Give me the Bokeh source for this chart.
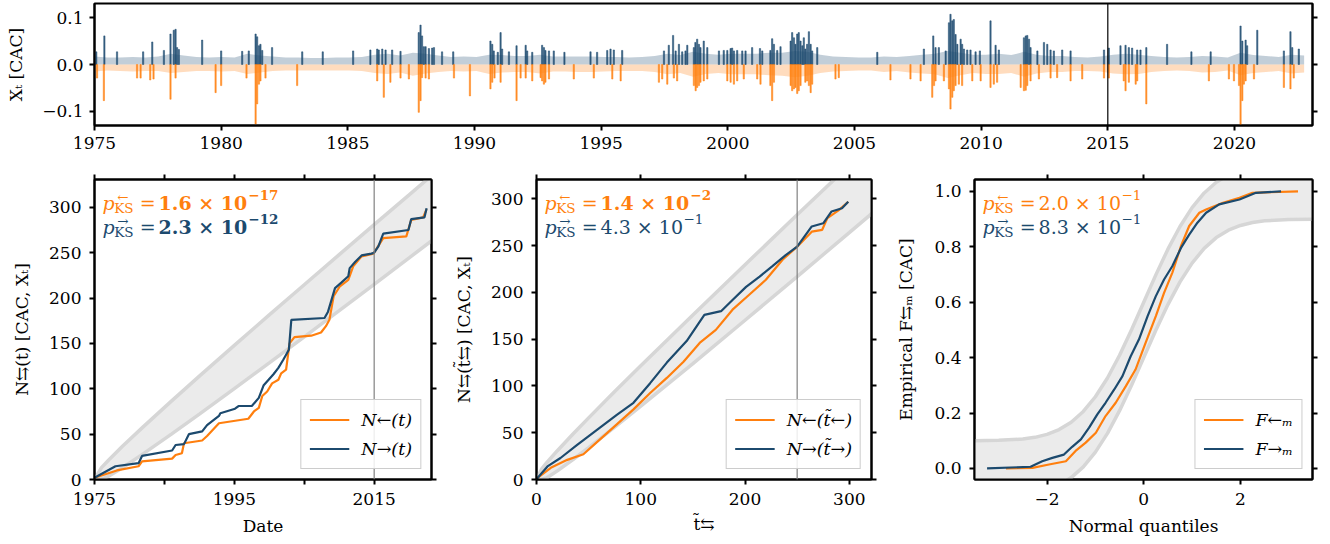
import numpy as np
from bokeh.plotting import figure
from bokeh.models import (Range1d, FixedTicker, LinearAxis, Span, Label, Legend,
                          LegendItem, CustomJSTickFormatter)
from bokeh.layouts import column, row
from bokeh.embed import file_html
from bokeh.resources import INLINE

ORANGE = "#ff7f0e"
BLUE = "#1c4a6e"
BAND_FILL = "#ebebeb"
BAND_EDGE = "#d6d6d6"
FONT = "DejaVu Serif"
FS = "17px"

# ---------------- top panel data ----------------
# envelope of the "ordinary" daily returns, per half-year, 1975 .. 2022
light_pos = [
    0.017, 0.015, 0.015, 0.016, 0.015, 0.017, 0.023, 0.019, 0.016, 0.015,
    0.016, 0.015, 0.023, 0.019, 0.017, 0.015, 0.015, 0.014, 0.014, 0.015,
    0.015, 0.016, 0.021, 0.023, 0.019, 0.025, 0.023, 0.019, 0.016, 0.017,
    0.016, 0.021, 0.020, 0.018, 0.018, 0.021, 0.017, 0.017, 0.017, 0.017,
    0.016, 0.016, 0.015, 0.016, 0.018, 0.023, 0.020, 0.027, 0.023, 0.021,
    0.023, 0.023, 0.023, 0.025, 0.025, 0.029, 0.027, 0.021, 0.017, 0.016,
    0.015, 0.015, 0.017, 0.016, 0.018, 0.021, 0.023, 0.029, 0.025, 0.021,
    0.021, 0.023, 0.020, 0.027, 0.021, 0.018, 0.018, 0.016, 0.015, 0.017,
    0.021, 0.023, 0.021, 0.018, 0.016, 0.015, 0.016, 0.018, 0.017, 0.015,
    0.025, 0.020, 0.018, 0.016, 0.021, 0.019]
light_neg = [
    -0.015, -0.013, -0.014, -0.015, -0.014, -0.014, -0.018, -0.016, -0.014, -0.014,
    -0.015, -0.014, -0.020, -0.017, -0.014, -0.013, -0.013, -0.013, -0.013, -0.013,
    -0.013, -0.014, -0.018, -0.020, -0.017, -0.024, -0.019, -0.016, -0.014, -0.015,
    -0.014, -0.020, -0.017, -0.016, -0.016, -0.019, -0.015, -0.015, -0.016, -0.016,
    -0.015, -0.014, -0.014, -0.014, -0.016, -0.021, -0.018, -0.026, -0.020, -0.018,
    -0.021, -0.021, -0.021, -0.023, -0.024, -0.027, -0.024, -0.018, -0.015, -0.014,
    -0.013, -0.013, -0.016, -0.014, -0.017, -0.019, -0.021, -0.029, -0.023, -0.018,
    -0.020, -0.020, -0.018, -0.026, -0.019, -0.016, -0.016, -0.014, -0.014, -0.015,
    -0.019, -0.021, -0.020, -0.016, -0.014, -0.013, -0.014, -0.017, -0.016, -0.013,
    -0.023, -0.018, -0.016, -0.014, -0.019, -0.017]

# exceedances above the threshold (positive) -- date, return
up_years = [
    1975.07, 1975.39, 1975.89, 1976.92, 1977.28, 1977.74, 1978.00, 1978.13, 1978.20, 1978.26,
    1978.33, 1979.25, 1980.00, 1980.83, 1981.09, 1981.36, 1981.42, 1981.49, 1981.55, 1981.62,
    1982.01, 1983.20, 1984.01, 1985.21, 1985.89, 1986.16, 1986.22, 1986.36, 1986.49, 1986.75,
    1987.08, 1987.80, 1987.87, 1987.93, 1988.00, 1988.07, 1988.20, 1988.33, 1988.40, 1988.72,
    1989.16, 1990.63, 1990.70, 1990.76, 1990.92, 1991.03, 1991.09, 1991.36, 1991.66, 1992.02,
    1992.08, 1992.28, 1992.67, 1992.74, 1992.80, 1992.94, 1993.13, 1993.55, 1994.58, 1994.84,
    1995.24, 1995.37, 1995.50, 1995.83, 1997.48, 1997.67, 1997.84, 1997.94, 1998.07, 1998.20,
    1998.33, 1998.40, 1998.66, 1998.72, 1998.79, 1998.86, 1998.92, 1999.05, 1999.19, 1999.65,
    1999.84, 1999.98, 2000.11, 2000.17, 2000.24, 2000.37, 2000.57, 2000.70, 2000.96, 2001.27,
    2001.36, 2001.68, 2001.75, 2001.82, 2001.95, 2002.08, 2002.48, 2002.54, 2002.61, 2002.67,
    2002.74, 2002.80, 2002.87, 2002.94, 2003.00, 2003.06, 2003.13, 2003.20, 2003.27, 2003.33,
    2003.53, 2005.90, 2007.74, 2008.11, 2008.20, 2008.33, 2008.60, 2008.73, 2008.79, 2008.86,
    2008.92, 2008.99, 2009.06, 2009.19, 2009.25, 2009.32, 2009.45, 2009.58, 2009.78, 2009.95,
    2010.37, 2010.57, 2010.70, 2011.69, 2011.76, 2011.82, 2011.89, 2011.95, 2012.22, 2012.48,
    2012.61, 2012.74, 2012.87, 2013.20, 2013.53, 2014.85, 2015.04, 2015.50, 2015.70, 2015.83,
    2015.96, 2016.16, 2016.29, 2016.52, 2017.34, 2018.30, 2019.06, 2020.24, 2020.31, 2020.44,
    2020.50, 2020.90, 2021.95, 2022.21, 2022.28, 2022.54]
up_vals = [
    0.027, 0.061, 0.027, 0.027, 0.048, 0.030, 0.065, 0.073, 0.075, 0.036,
    0.032, 0.052, 0.029, 0.028, 0.029, 0.065, 0.059, 0.040, 0.043, 0.030,
    0.036, 0.027, 0.027, 0.029, 0.031, 0.033, 0.031, 0.033, 0.031, 0.031,
    0.028, 0.068, 0.084, 0.061, 0.038, 0.038, 0.034, 0.035, 0.036, 0.027,
    0.027, 0.050, 0.043, 0.029, 0.026, 0.068, 0.033, 0.027, 0.040, 0.041,
    0.029, 0.026, 0.041, 0.036, 0.030, 0.029, 0.029, 0.026, 0.027, 0.026,
    0.030, 0.033, 0.031, 0.030, 0.029, 0.041, 0.062, 0.029, 0.043, 0.027,
    0.029, 0.041, 0.036, 0.047, 0.054, 0.043, 0.036, 0.050, 0.036, 0.029,
    0.030, 0.030, 0.034, 0.035, 0.029, 0.030, 0.029, 0.029, 0.036, 0.034,
    0.029, 0.030, 0.055, 0.043, 0.030, 0.038, 0.050, 0.068, 0.057, 0.043,
    0.065, 0.068, 0.050, 0.040, 0.057, 0.033, 0.043, 0.070, 0.043, 0.029,
    0.036, 0.026, 0.033, 0.061, 0.036, 0.036, 0.029, 0.089, 0.107, 0.093,
    0.096, 0.064, 0.043, 0.054, 0.043, 0.033, 0.031, 0.031, 0.027, 0.029,
    0.093, 0.041, 0.031, 0.057, 0.061, 0.062, 0.054, 0.036, 0.029, 0.047,
    0.043, 0.031, 0.029, 0.031, 0.029, 0.031, 0.035, 0.040, 0.041, 0.036,
    0.035, 0.031, 0.031, 0.036, 0.043, 0.027, 0.027, 0.082, 0.050, 0.052,
    0.040, 0.073, 0.029, 0.070, 0.036, 0.033]

# exceedances below the threshold (negative)
down_years = [
    1975.10, 1975.37, 1976.68, 1976.82, 1977.20, 1977.33, 1978.00, 1978.20, 1979.78, 1980.00,
    1981.00, 1981.36, 1981.42, 1981.49, 1981.55, 1981.75, 1983.00, 1986.16, 1986.42, 1986.68,
    1987.08, 1987.41, 1987.80, 1987.87, 1987.93, 1988.07, 1988.20, 1989.19, 1989.82, 1990.63,
    1990.70, 1990.79, 1991.03, 1991.66, 1991.82, 1992.02, 1992.28, 1992.61, 1992.67, 1992.74,
    1992.80, 1992.94, 1993.92, 1994.71, 1995.44, 1995.77, 1997.28, 1997.41, 1997.61, 1997.87,
    1998.00, 1998.66, 1998.73, 1998.79, 1998.86, 1998.92, 1999.05, 1999.19, 1999.98, 2000.11,
    2000.24, 2000.37, 2000.63, 2001.16, 2001.29, 2001.68, 2001.75, 2001.82, 2002.48, 2002.54,
    2002.61, 2002.67, 2002.74, 2002.80, 2002.87, 2003.06, 2003.13, 2003.20, 2003.27, 2003.33,
    2004.25, 2004.38, 2006.42, 2007.21, 2007.61, 2008.07, 2008.14, 2008.20, 2008.53, 2008.73,
    2008.79, 2008.86, 2008.92, 2008.99, 2009.12, 2009.25, 2009.65, 2009.98, 2010.37, 2010.50,
    2010.63, 2011.56, 2011.69, 2011.76, 2011.82, 2011.95, 2012.28, 2012.74, 2013.00, 2013.53,
    2013.99, 2014.85, 2015.04, 2015.63, 2015.70, 2015.83, 2016.10, 2016.16, 2016.52, 2018.99,
    2019.78, 2019.98, 2020.18, 2020.24, 2020.31, 2020.37, 2020.44, 2020.77, 2021.95, 2022.21,
    2022.34]
down_vals = [
    -0.029, -0.077, -0.029, -0.029, -0.033, -0.031, -0.074, -0.029, -0.060, -0.045,
    -0.029, -0.127, -0.084, -0.042, -0.035, -0.029, -0.045, -0.035, -0.070, -0.038,
    -0.029, -0.031, -0.102, -0.077, -0.028, -0.029, -0.031, -0.029, -0.067, -0.052,
    -0.038, -0.029, -0.038, -0.077, -0.029, -0.029, -0.035, -0.028, -0.035, -0.042,
    -0.038, -0.031, -0.031, -0.029, -0.031, -0.035, -0.038, -0.031, -0.042, -0.029,
    -0.035, -0.045, -0.056, -0.049, -0.045, -0.038, -0.035, -0.031, -0.035, -0.038,
    -0.042, -0.035, -0.031, -0.031, -0.042, -0.045, -0.077, -0.038, -0.045, -0.056,
    -0.052, -0.049, -0.062, -0.056, -0.045, -0.038, -0.035, -0.045, -0.060, -0.042,
    -0.031, -0.028, -0.033, -0.031, -0.035, -0.070, -0.045, -0.035, -0.035, -0.052,
    -0.095, -0.070, -0.056, -0.045, -0.042, -0.045, -0.035, -0.035, -0.049, -0.042,
    -0.038, -0.049, -0.056, -0.055, -0.045, -0.035, -0.031, -0.029, -0.028, -0.035,
    -0.031, -0.029, -0.029, -0.035, -0.056, -0.038, -0.042, -0.035, -0.084, -0.035,
    -0.031, -0.035, -0.045, -0.130, -0.077, -0.042, -0.035, -0.031, -0.049, -0.052,
    -0.029]

# ---------------- panel 1: counting processes vs date ----------------
n1_up_years = [1975.0, 1978.0, 1981.3, 1981.8, 1986.1, 1986.6, 1987.8, 1988.5, 1990.4, 1991.1,
               1992.8, 1993.0, 1995.1, 1995.6, 1997.5, 1998.5, 1999.2, 1999.9, 2000.6, 2001.3,
               2002.0, 2002.8, 2003.15, 2007.9, 2008.4, 2008.9, 2009.4, 2010.3, 2011.3, 2011.5,
               2012.3, 2013.2, 2014.6, 2015.0, 2015.6, 2016.3, 2019.9, 2020.3, 2022.2, 2022.5]
n1_up = [2, 14.6, 18, 26, 32, 38, 39, 50, 53, 60,
         70, 73, 78, 81, 81, 90, 104, 110, 116, 123,
         132, 143, 176, 178, 185, 198, 211, 217, 224, 233,
         240, 247, 249, 250, 257, 271, 275, 287, 289, 299]
n1_down_years = [1975.0, 1978.2, 1981.3, 1981.8, 1986.1, 1986.6, 1987.5, 1987.8, 1990.4, 1991.1,
                 1992.8, 1997.0, 1997.8, 1998.5, 1999.0, 1999.7, 2000.4, 2001.3, 2001.7, 2002.4,
                 2002.9, 2003.6, 2006.0, 2007.4, 2008.1, 2008.6, 2009.2, 2010.1, 2011.3, 2012.0,
                 2013.2, 2014.9, 2016.3, 2019.6, 2020.3, 2022.0, 2022.5]
n1_down = [2, 10, 14.6, 20, 23, 27, 29, 40, 43, 48,
           62, 67, 75, 79, 92, 97, 106, 110, 117, 121,
           150, 157, 158.5, 162, 169, 176, 202, 213, 220, 235,
           246, 249, 266, 268, 286, 289, 298]
band1_years = [1975, 1976, 1977, 1979, 1982, 1986, 1990, 1995, 2000, 2005, 2010, 2015, 2020, 2024]
band1_hi = [0, 13.1, 21.3, 36.6, 58.3, 86.4, 113.9, 147.8, 181.4, 214.7, 247.9, 280.9, 313.7, 340.2]
band1_lo = [0, 0.5, 3.5, 13.0, 28.5, 50.0, 72.1, 100.2, 128.6, 157.3, 186.1, 215.1, 244.3, 267.8]

# ---------------- panel 2: counting processes vs transformed time ----------------
t2_up = [0, 1, 10.5, 23, 39, 58, 77, 93, 109, 125, 144, 161, 177, 188, 201, 214, 226, 239,
         250, 264, 275, 283, 293, 299]
n2_up = [0, 1.7, 14, 23, 37, 53, 69, 82, 103, 125, 148, 176, 180, 192, 206, 217, 228, 240,
         249, 270.6, 274, 286.6, 290, 297]
t2_down = [0, 1, 13.7, 29.5, 45, 55, 77, 93, 109, 125, 141, 156.5, 172, 188, 204, 220, 236,
           250, 264, 274, 279, 290, 299]
n2_down = [0, 1.7, 12.5, 21, 27, 37, 59, 75, 92.5, 108.6, 126, 146, 160, 181.6, 197.6, 213.6,
           235, 249, 265, 267, 279.5, 288, 297]
band2_t = [0, 5, 10, 20, 35, 50, 75, 100, 150, 200, 250, 300, 330]
band2_hi = [0, 11.4, 18.2, 30.8, 48.6, 65.9, 94.0, 121.6, 176.0, 229.7, 283.0, 336.0, 367.6]
band2_lo = [0, 0.3, 1.8, 9.2, 21.4, 34.1, 56.0, 78.4, 124.0, 170.3, 217.0, 264.0, 292.4]

# ---------------- panel 3: empirical distribution of marks ----------------
q_up = [-3.24, -2.34, -2.1, -1.89, -1.65, -1.48, -1.3, -1.13, -0.96, -0.79, -0.61, -0.44,
        -0.27, -0.1, 0.08, 0.25, 0.42, 0.59, 0.77, 0.94, 1.11, 1.29, 1.56, 1.98, 2.32, 2.84]
f_up = [0, 0.006, 0.026, 0.038, 0.05, 0.078, 0.105, 0.147, 0.195, 0.237, 0.285, 0.333,
        0.405, 0.465, 0.55, 0.622, 0.682, 0.73, 0.796, 0.844, 0.887, 0.923, 0.953, 0.971,
        0.995, 1.0]
q_down = [-2.85, -2.3, -1.96, -1.61, -1.41, -1.2, -0.99, -0.79, -0.58, -0.37, -0.17, 0.04,
          0.25, 0.42, 0.59, 0.77, 0.94, 1.15, 1.29, 1.64, 1.98, 2.25, 3.19]
f_down = [0, 0.002, 0.014, 0.026, 0.063, 0.093, 0.129, 0.189, 0.237, 0.297, 0.357, 0.454,
          0.55, 0.634, 0.706, 0.803, 0.875, 0.923, 0.935, 0.959, 0.977, 0.995, 1.0]
band3_q = [-3.5, -3.0, -2.5, -2.25, -2.0, -1.75, -1.5, -1.25, -1.0, -0.75, -0.5, -0.25, 0.0,
           0.25, 0.5, 0.75, 1.0, 1.25, 1.5, 1.75, 2.0, 2.25, 2.5, 3.0, 3.5]
band3_hi = [0.1002, 0.1013, 0.1062, 0.1122, 0.1228, 0.1401, 0.1668, 0.2056, 0.2587, 0.3266,
            0.4085, 0.5013, 0.6, 0.6987, 0.7915, 0.8734, 0.9413, 0.9944, 1.0332, 1.0599,
            1.0772, 1.0878, 1.0938, 1.0987, 1.0998]
band3_lo = [-0.0998, -0.0987, -0.0938, -0.0878, -0.0772, -0.0599, -0.0332, 0.0056, 0.0587,
            0.1266, 0.2085, 0.3013, 0.4, 0.4987, 0.5915, 0.6734, 0.7413, 0.7944, 0.8332,
            0.8599, 0.8772, 0.8878, 0.8938, 0.8987, 0.8998]

# KS p-values: (mantissa, exponent, significant?)
pks_values = {
    "date": [("1.6", "\u221217", True), ("2.3", "\u221212", True)],
    "ttilde": [("1.4", "\u22122", True), ("4.3", "\u22121", False)],
    "marks": [("2.0", "\u22121", False), ("8.3", "\u22121", False)],
}

# ---------------- helpers ----------------
def style_axis(ax, standoff=8, label_standoff=8, hidden=False):
    ax.axis_line_width = 2
    ax.axis_line_color = "black"
    ax.major_tick_line_width = 2
    ax.major_tick_line_color = "black"
    ax.major_tick_out = 5
    ax.major_tick_in = 0
    ax.minor_tick_line_color = None
    ax.major_label_text_font = FONT
    ax.major_label_text_font_size = FS
    ax.major_label_text_color = "black"
    ax.major_label_standoff = standoff
    ax.axis_label_text_font = FONT
    ax.axis_label_text_font_size = FS
    ax.axis_label_text_font_style = "normal"
    ax.axis_label_text_color = "black"
    ax.axis_label_standoff = label_standoff
    if hidden:
        ax.formatter = CustomJSTickFormatter(code="return '';")
        ax.major_label_standoff = 0


def make_fig(width, height, xr, yr, ml, mr, mt, mb):
    p = figure(width=width, height=height, x_range=Range1d(*xr), y_range=Range1d(*yr),
               output_backend="svg", toolbar_location=None,
               min_border_left=ml, min_border_right=mr, min_border_top=mt, min_border_bottom=mb)
    p.xgrid.visible = False
    p.ygrid.visible = False
    p.outline_line_color = "black"
    p.outline_line_width = 2
    p.outline_line_alpha = 1
    p.background_fill_color = "white"
    p.border_fill_color = "white"
    return p


def add_tick_only_axis(p, side, ticks):
    ax = LinearAxis(ticker=FixedTicker(ticks=ticks))
    style_axis(ax, hidden=True)
    p.add_layout(ax, side)


W_REG = {'p': 0.640, 'K': 0.751, 'S': 0.685, '=': 0.838, '.': 0.318, ' ': 0.318,
         '\u00d7': 0.838, '\u2212': 0.838}
W_BOLD = {'.': 0.381, ' ': 0.348, '\u00d7': 0.838, '\u2212': 0.838, '=': 0.838}


def text_w(s, size, bold=False):
    tot = 0.0
    for ch in s:
        if ch.isdigit():
            tot += 0.696 if bold else 0.636
        else:
            tot += (W_BOLD if bold else W_REG).get(ch, 0.7)
    return tot * size


def add_pks(p, x0, y0, line, arrow, mant, expo, color, bold):
    F, S = 19, 13.5
    base = -23.5 - 24 * line
    style = "bold" if bold else "normal"
    x = 8.0

    def lab(txt, dx, dy, size, fstyle, align="left"):
        p.add_layout(Label(x=x0, y=y0, x_offset=dx, y_offset=dy, text=txt,
                           text_font=FONT, text_font_size=f"{size}px", text_font_style=fstyle,
                           text_color=color, text_align=align, text_baseline="alphabetic"))

    lab("p", x, base, F, "italic")
    x += 0.62 * F
    wks = text_w("KS", S)
    lab("KS", x, base - 5, S, "normal")
    lab(arrow, x + wks / 2 - 1, base + 6, S, "normal", align="center")
    x += wks + 6
    lab("=", x, base, F, "normal")
    x += 0.838 * F + 3
    m = mant + " \u00d7 10"
    lab(m, x, base, F, style)
    x += text_w(m, F, bold) + 0.5
    lab(expo, x, base + 8, S, style)


def add_legend(p, items):
    leg = Legend(items=[LegendItem(label=l, renderers=[r]) for l, r in items],
                 location="bottom_right", margin=10, padding=8, spacing=6,
                 glyph_width=40, glyph_height=23, label_height=23, label_standoff=12,
                 border_line_color="#cccccc", border_line_width=1.5, border_line_alpha=1,
                 background_fill_color="white", background_fill_alpha=0.85,
                 label_text_font=FONT, label_text_font_size="17.5px",
                 label_text_font_style="italic", label_text_color="black")
    p.add_layout(leg)


# ---------------- top panel ----------------
top = make_fig(1330, 160, (1975.0, 2023.08), (-0.13, 0.13), 94, 18, 3, 35)
top.xaxis.ticker = FixedTicker(ticks=[1975, 1980, 1985, 1990, 1995, 2000, 2005, 2010, 2015, 2020])
top.yaxis.ticker = FixedTicker(ticks=[-0.1, 0.0, 0.1])
top.yaxis.formatter = CustomJSTickFormatter(
    code="return (tick < -1e-9 ? '\\u2212' : '') + Math.abs(tick).toFixed(1);")
style_axis(top.xaxis[0], standoff=6)
style_axis(top.yaxis[0], standoff=6, label_standoff=13)
top.yaxis.axis_label = "X\u209c [CAC]"
add_tick_only_axis(top, "right", [-0.1, 0.0, 0.1])

light_x = np.linspace(1975.0, 2022.75, len(light_pos))
top.varea(x=light_x, y1=0, y2=light_pos, fill_color=BLUE, fill_alpha=0.27)
top.varea(x=light_x, y1=0, y2=light_neg, fill_color=ORANGE, fill_alpha=0.27)
top.vbar(x=up_years, top=up_vals, bottom=0, width=0.05, fill_color=BLUE, fill_alpha=0.85,
         line_color=BLUE, line_alpha=0.85, line_width=0.6)
top.vbar(x=down_years, top=0, bottom=down_vals, width=0.05, fill_color=ORANGE, fill_alpha=0.85,
         line_color=ORANGE, line_alpha=0.85, line_width=0.6)
top.add_layout(Span(location=2015, dimension="height", line_color="black", line_width=1.2))

# ---------------- panel 1 ----------------
f1 = make_fig(451, 384, (1975.0, 2023.2), (0, 330.7), 94, 20, 19, 65)
f1.xaxis.ticker = FixedTicker(ticks=[1975, 1985, 1995, 2005, 2015])
f1.xaxis.formatter = CustomJSTickFormatter(
    code="return (Math.abs(tick-1985)<0.5 || Math.abs(tick-2005)<0.5) ? '' : tick.toFixed(0);")
f1.yaxis.ticker = FixedTicker(ticks=[0, 50, 100, 150, 200, 250, 300])
style_axis(f1.xaxis[0], standoff=8, label_standoff=8)
style_axis(f1.yaxis[0], standoff=8, label_standoff=14)
f1.xaxis.axis_label = "Date"
f1.yaxis.axis_label = "N\u21c6(t) [CAC, X\u209c]"
add_tick_only_axis(f1, "right", [0, 50, 100, 150, 200, 250, 300])
add_tick_only_axis(f1, "above", [1975, 1985, 1995, 2005, 2015])

f1.varea(x=band1_years, y1=band1_lo, y2=band1_hi, fill_color=BAND_FILL)
f1.line(band1_years, band1_hi, line_color=BAND_EDGE, line_width=3.5)
f1.line(band1_years, band1_lo, line_color=BAND_EDGE, line_width=3.5)
f1.add_layout(Span(location=2015, dimension="height", line_color="#808080", line_width=1.2))
r1d = f1.line(n1_down_years, n1_down, line_color=ORANGE, line_width=2.2)
r1u = f1.line(n1_up_years, n1_up, line_color=BLUE, line_width=2.2)
add_legend(f1, [("N\u2190(t)", r1d), ("N\u2192(t)", r1u)])

# ---------------- panel 2 ----------------
f2 = make_fig(440, 384, (0, 321.3), (0, 320.8), 83, 20, 19, 65)
f2.xaxis.ticker = FixedTicker(ticks=[0, 100, 200, 300])
f2.yaxis.ticker = FixedTicker(ticks=[0, 50, 100, 150, 200, 250, 300])
style_axis(f2.xaxis[0], standoff=8, label_standoff=6)
style_axis(f2.yaxis[0], standoff=8, label_standoff=14)
f2.xaxis.axis_label = "t\u0303\u21c6"
f2.yaxis.axis_label = "N\u21c6(t\u0303\u21c6) [CAC, X\u209c]"
add_tick_only_axis(f2, "right", [0, 50, 100, 150, 200, 250, 300])
add_tick_only_axis(f2, "above", [0, 100, 200, 300])

f2.varea(x=band2_t, y1=band2_lo, y2=band2_hi, fill_color=BAND_FILL)
f2.line(band2_t, band2_hi, line_color=BAND_EDGE, line_width=3.5)
f2.line(band2_t, band2_lo, line_color=BAND_EDGE, line_width=3.5)
f2.add_layout(Span(location=250, dimension="height", line_color="#808080", line_width=1.2))
r2d = f2.line(t2_down, n2_down, line_color=ORANGE, line_width=2.2)
r2u = f2.line(t2_up, n2_up, line_color=BLUE, line_width=2.2)
add_legend(f2, [("N\u2190(t\u0303\u2190)", r2d), ("N\u2192(t\u0303\u2192)", r2u)])

# ---------------- panel 3 ----------------
f3 = make_fig(439, 384, (-3.5, 3.49), (-0.04, 1.043), 83, 18, 19, 65)
f3.xaxis.ticker = FixedTicker(ticks=[-2, 0, 2])
f3.xaxis.formatter = CustomJSTickFormatter(
    code="return (tick < -1e-9 ? '\\u2212' : '') + Math.abs(tick).toFixed(0);")
f3.yaxis.ticker = FixedTicker(ticks=[0.0, 0.2, 0.4, 0.6, 0.8, 1.0])
f3.yaxis.formatter = CustomJSTickFormatter(code="return Math.abs(tick).toFixed(1);")
style_axis(f3.xaxis[0], standoff=8, label_standoff=8)
style_axis(f3.yaxis[0], standoff=8, label_standoff=15)
f3.xaxis.axis_label = "Normal quantiles"
f3.yaxis.axis_label = "Empirical F\u21c6\u2098 [CAC]"
add_tick_only_axis(f3, "right", [0.0, 0.2, 0.4, 0.6, 0.8, 1.0])
add_tick_only_axis(f3, "above", [-2, 0, 2])

f3.varea(x=band3_q, y1=band3_lo, y2=band3_hi, fill_color=BAND_FILL)
f3.line(band3_q, band3_hi, line_color=BAND_EDGE, line_width=3.5)
f3.line(band3_q, band3_lo, line_color=BAND_EDGE, line_width=3.5)
r3d = f3.line(q_down, f_down, line_color=ORANGE, line_width=2.2)
r3u = f3.line(q_up, f_up, line_color=BLUE, line_width=2.2)
add_legend(f3, [("F\u2190\u2098", r3d), ("F\u2192\u2098", r3u)])

# ---------------- KS annotations ----------------
for fig, key, x0, y0 in [(f1, "date", 1975.0, 330.7), (f2, "ttilde", 0, 320.8),
                         (f3, "marks", -3.5, 1.043)]:
    (m1, e1, b1), (m2, e2, b2) = pks_values[key]
    add_pks(fig, x0, y0, 0, "\u2190", m1, e1, ORANGE, b1)
    add_pks(fig, x0, y0, 1, "\u2192", m2, e2, BLUE, b2)

layout = column(top, row(f1, f2, f3))
open("out.html", "w").write(file_html(layout, INLINE))
